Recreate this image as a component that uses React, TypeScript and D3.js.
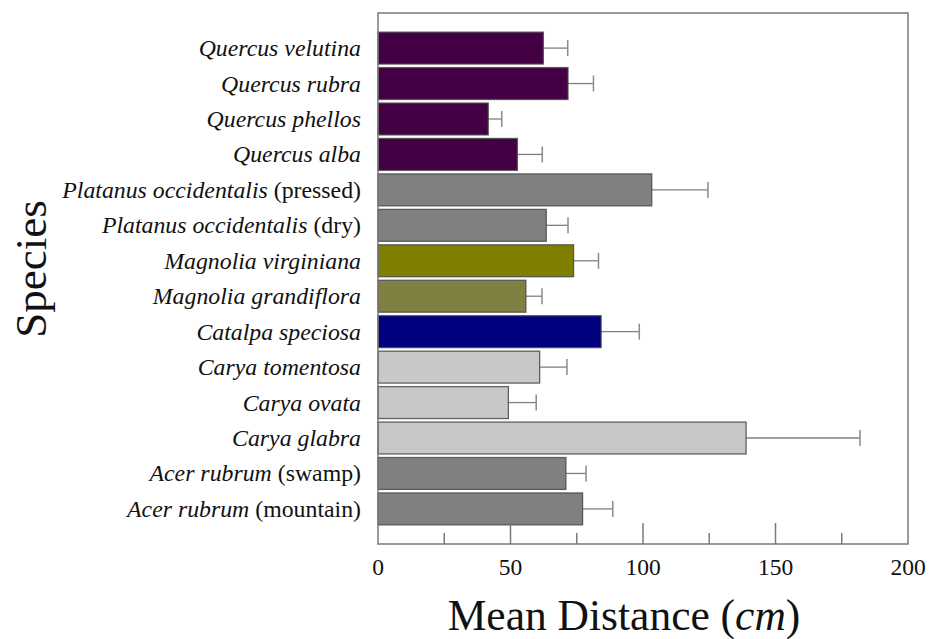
import React from "react";
import * as d3 from "d3";

const species = [
  "Quercus velutina",
  "Quercus rubra",
  "Quercus phellos",
  "Quercus alba",
  "Platanus occidentalis|(pressed)",
  "Platanus occidentalis|(dry)",
  "Magnolia virginiana",
  "Magnolia grandiflora",
  "Catalpa speciosa",
  "Carya tomentosa",
  "Carya ovata",
  "Carya glabra",
  "Acer rubrum|(swamp)",
  "Acer rubrum|(mountain)",
];
const means = [62.4, 71.7, 41.6, 52.6, 103.3, 63.5, 73.8, 55.8, 84.2, 61.0, 49.2, 138.9, 70.9, 77.2];
const upper = [71.6, 81.3, 46.7, 62.0, 124.5, 71.7, 83.2, 61.9, 98.6, 71.3, 59.7, 181.9, 78.5, 88.6];
const colors = [
  "#440044", "#440044", "#440044", "#440044",
  "#808080", "#808080",
  "#808000", "#808040",
  "#000080",
  "#c8c8c8", "#c8c8c8", "#c8c8c8",
  "#808080", "#808080",
];
const majorTicks = [0, 50, 100, 150, 200];
const minorTicks = [25, 75, 125, 175];

export default function App() {
  const W = 932, H = 639;
  const left = 378, right = 908, top = 13, bottom = 544;
  const x = d3.scaleLinear().domain([0, 200]).range([left, right]);
  const y = d3.scaleBand<string>().domain(species).range([top, bottom]).paddingInner(0.1).paddingOuter(0.54);
  const bh = y.bandwidth();
  const serif = "'Liberation Serif', 'Times New Roman', serif";
  const frameColor = "#7a7a7a";
  return (
    <svg width={W} height={H} style={{ position: "absolute", left: 0, top: 0, background: "#fff" }}>
      <g>
        {species.map((s, i) => {
          const y0 = y(s)!;
          const cy = y0 + bh / 2;
          return (
            <g key={s}>
              <line x1={x(means[i])} x2={x(upper[i])} y1={cy} y2={cy} stroke="#808080" strokeWidth={1.3} />
              <line x1={x(upper[i])} x2={x(upper[i])} y1={cy - 8} y2={cy + 8} stroke="#8a8a8a" strokeWidth={1.5} />
              <rect x={x(0)} y={y0} width={x(means[i]) - x(0)} height={bh} fill={colors[i]} stroke="#4a4a4a" strokeWidth={1.3} strokeOpacity={0.85} />
            </g>
          );
        })}
      </g>
      <rect x={left} y={top} width={right - left} height={bottom - top} fill="none" stroke={frameColor} strokeWidth={1.5} />
      {majorTicks.map((t) => (
        <g key={"M" + t}>
          {t > 0 && t < 200 && <line x1={x(t)} x2={x(t)} y1={bottom} y2={bottom - 21} stroke={frameColor} strokeWidth={1.5} />}
          <text x={x(t)} y={575} textAnchor="middle" fontFamily={serif} fontSize={23.5} fill="#111">{t}</text>
        </g>
      ))}
      {minorTicks.map((t) => (
        <line key={"m" + t} x1={x(t)} x2={x(t)} y1={bottom} y2={bottom - 11} stroke={frameColor} strokeWidth={1.5} />
      ))}
      {species.map((s) => {
        const [name, extra] = s.split("|");
        return (
          <text key={"l" + s} x={361} y={y(s)! + bh / 2 + 8} textAnchor="end" fontFamily={serif} fontSize={23.8} fill="#111">
            <tspan fontStyle="italic">{name}</tspan>
            {extra ? <tspan>{" " + extra}</tspan> : null}
          </text>
        );
      })}
      <text transform={`translate(46,269) rotate(-90)`} textAnchor="middle" fontFamily={serif} fontSize={45} fill="#111">Species</text>
      <text x={624} y={630} textAnchor="middle" fontFamily={serif} fontSize={43.5} fill="#111">
        Mean Distance (<tspan fontStyle="italic">cm</tspan>)
      </text>
    </svg>
  );
}
